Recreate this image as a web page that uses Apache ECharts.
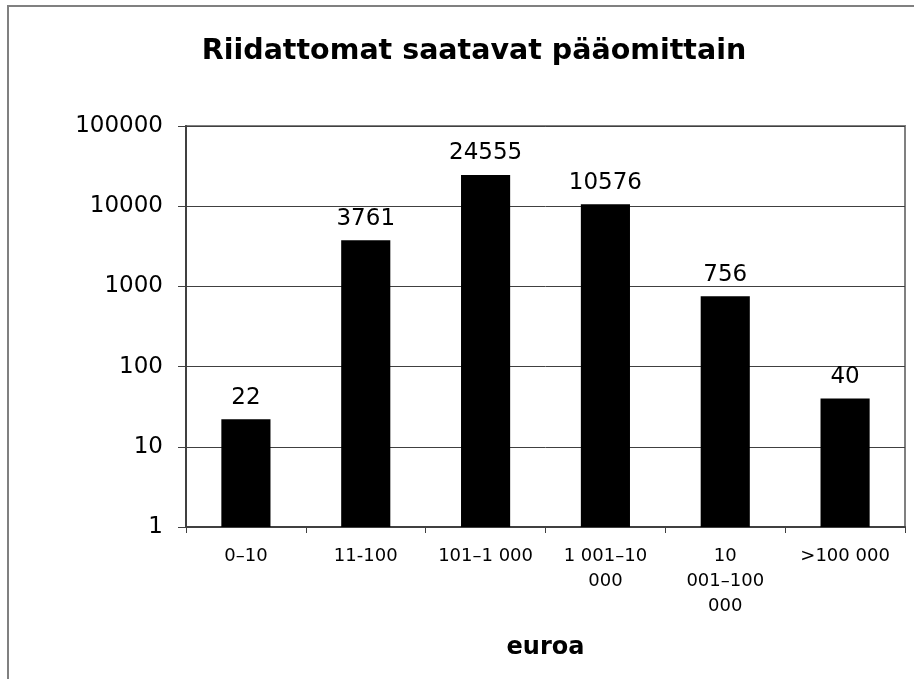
<!DOCTYPE html>
<html>
<head>
<meta charset="utf-8">
<title>Riidattomat saatavat pääomittain</title>
<script src="https://cdn.jsdelivr.net/npm/echarts@6/dist/echarts.min.js"></script>
<style>
  html, body { margin: 0; padding: 0; background: #fff; }
  #chart { width: 914px; height: 679px; }
</style>
</head>
<body>
<div id="chart"></div>
<script>
// luokat ja arvot
var categories = ['0\u201310', '11-100', '101\u20131 000', '1 001\u201310\n000', '10\n001\u2013100\n000', '>100 000'];
var counts = [22, 3761, 24555, 10576, 756, 40];
var yTicks = [1, 10, 100, 1000, 10000, 100000];

var myChart = echarts.init(document.getElementById('chart'));
var font = 'DejaVu Sans, Verdana, sans-serif';

var option = {
    animation: false,
    textStyle: { fontFamily: font },
    title: {
        text: 'Riidattomat saatavat pääomittain',
        left: 469,
        textAlign: 'center',
        top: 32,
        textStyle: { fontSize: 28.5, fontWeight: 'bold', color: '#000', fontFamily: font }
    },
    // ulkoreunus
    graphic: [{
        type: 'rect',
        shape: { x: 8, y: 6, width: 930, height: 700 },
        style: { fill: 'none', stroke: '#808080', lineWidth: 2 },
        silent: true
    }],
    grid: {
        left: 186, right: 9, top: 126, bottom: 152,
        show: true,
        borderColor: '#808080',
        borderWidth: 2,
        backgroundColor: 'transparent'
    },
    xAxis: {
        type: 'category',
        data: categories,
        name: 'euroa',
        nameLocation: 'middle',
        nameGap: 109,
        nameTextStyle: { fontSize: 24, fontWeight: 'bold', color: '#000', fontFamily: font },
        axisLine: { lineStyle: { color: '#404040', width: 2 } },
        axisTick: { show: true, length: 6, lineStyle: { color: '#404040' } },
        axisLabel: { fontSize: 18, color: '#000', margin: 17, lineHeight: 25, interval: 0, fontFamily: font }
    },
    yAxis: {
        type: 'log',
        logBase: 10,
        min: 1,
        max: 100000,
        axisLine: { show: true, lineStyle: { color: '#404040', width: 2 } },
        axisTick: { show: true, length: 8, inside: false, lineStyle: { color: '#404040' } },
        axisLabel: {
            fontSize: 23, color: '#000', margin: 23, fontFamily: font,
            formatter: function (v) { return yTicks.indexOf(Math.round(v)) >= 0 ? String(Math.round(v)) : ''; }
        },
        splitLine: { show: true, lineStyle: { color: '#404040', width: 1 } },
        minorTick: { show: false }
    },
    series: [{
        type: 'bar',
        data: counts,
        barWidth: '41%',
        itemStyle: { color: '#000' },
        label: {
            show: true,
            position: 'top',
            distance: 10,
            fontSize: 23,
            color: '#000',
            fontFamily: font
        }
    }]
};
myChart.setOption(option);
</script>
</body>
</html>
